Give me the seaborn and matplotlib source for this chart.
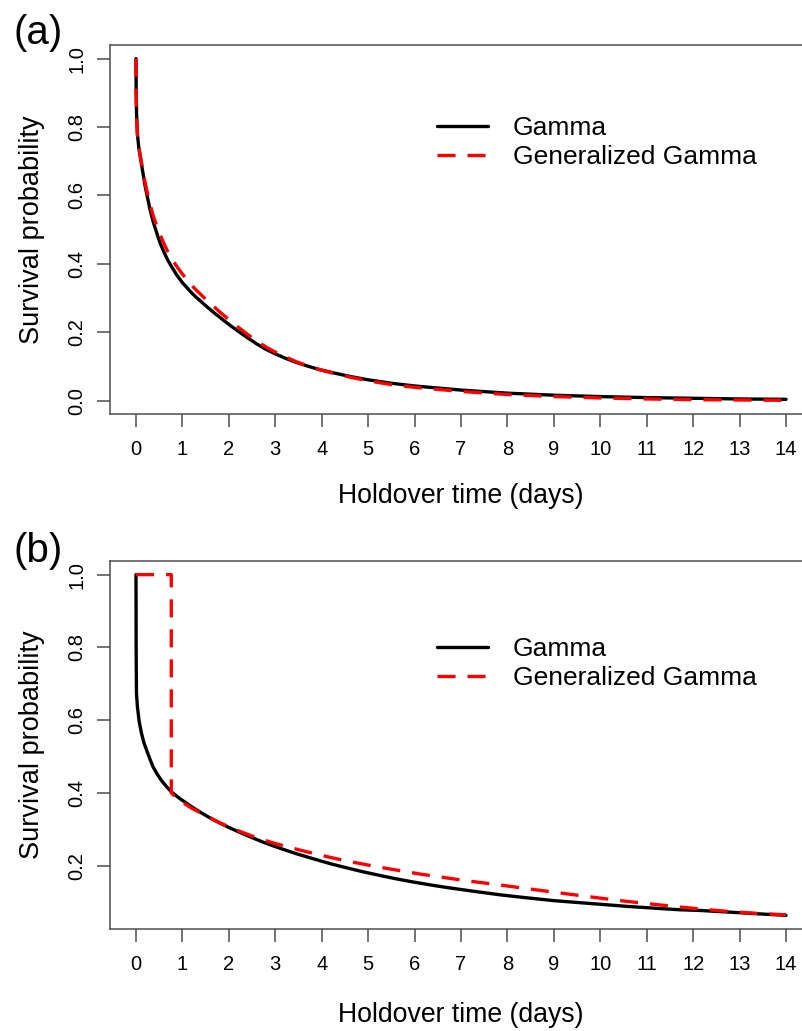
import matplotlib
matplotlib.use("Agg")
import matplotlib.pyplot as plt
import seaborn as sns
from matplotlib.lines import Line2D

# ---- Panel (a): fitted survival curves on a shared time grid ----
days_a = [0, 0.004, 0.012, 0.03, 0.06, 0.12, 0.2, 0.3, 0.37, 0.45, 0.52, 0.6, 0.68,
          0.77, 0.88, 1.0, 1.1, 1.2, 1.3, 1.4, 1.55, 1.7, 1.85, 2.0, 2.2, 2.4, 2.6,
          2.8, 3.0, 3.2, 3.45, 3.7, 3.95, 4.2, 4.4, 4.6, 5.0, 5.5, 6, 7, 8, 9, 10,
          11, 12, 13, 14]
gamma_a = [1.0, 0.90, 0.84, 0.78, 0.74, 0.69, 0.625, 0.56, 0.523, 0.489, 0.461,
           0.435, 0.412, 0.391, 0.367, 0.345, 0.33, 0.315, 0.302, 0.29, 0.272,
           0.255, 0.239, 0.223, 0.203, 0.184, 0.166, 0.15, 0.137, 0.125, 0.112,
           0.101, 0.091, 0.083, 0.077, 0.071, 0.061, 0.051, 0.043, 0.031, 0.022,
           0.016, 0.012, 0.009, 0.007, 0.005, 0.004]
gengamma_a = [1.0, 0.90, 0.84, 0.78, 0.74, 0.695, 0.635, 0.575, 0.541, 0.51, 0.485,
              0.46, 0.437, 0.416, 0.392, 0.37, 0.354, 0.337, 0.323, 0.31, 0.29,
              0.272, 0.254, 0.237, 0.215, 0.194, 0.174, 0.157, 0.142, 0.129, 0.114,
              0.102, 0.091, 0.082, 0.0755, 0.069, 0.058, 0.047, 0.039, 0.027, 0.018,
              0.012, 0.008, 0.005, 0.003, 0.002, 0.001]

# ---- Panel (b) ----
days_b_gamma = [0, 0.003, 0.01, 0.03, 0.07, 0.12, 0.17, 0.23, 0.3, 0.37, 0.46,
                0.55, 0.66, 0.77, 0.95, 1.2, 1.45, 1.67, 2.0, 2.39, 2.75, 3.1, 3.45,
                3.82, 4.2, 4.54, 4.9, 5.26, 5.6, 5.98, 6.35, 6.7, 7.2, 7.84, 8.4, 9.0,
                9.5, 10.0, 10.6, 11.2, 11.7, 12.15, 12.7, 13.3, 14.0]
gamma_b = [1.0, 0.80, 0.674, 0.637, 0.595, 0.563, 0.538, 0.517, 0.493, 0.471, 0.451,
           0.434, 0.417, 0.402, 0.384, 0.362, 0.342, 0.326, 0.305, 0.283, 0.264,
           0.248, 0.233, 0.219, 0.205, 0.194, 0.183, 0.173, 0.164, 0.155, 0.147,
           0.140, 0.131, 0.120, 0.112, 0.104, 0.099, 0.094, 0.088, 0.083, 0.079,
           0.077, 0.073, 0.0685, 0.0635]
days_b_gengamma = [0, 0.76, 0.76, 0.95, 1.2, 1.5, 1.8, 2.24, 2.6, 2.89, 3.2, 3.53,
                   3.85, 4.18, 4.5, 4.83, 5.15, 5.47, 5.8, 6.12, 6.45, 6.77, 7.1, 7.41,
                   7.84, 8.3, 8.9, 9.5, 9.99, 10.5, 11.0, 11.6, 12.15, 12.7, 13.3, 14.0]
gengamma_b = [1.0, 1.0, 0.40, 0.378, 0.358, 0.338, 0.318, 0.294, 0.277, 0.265,
              0.254, 0.243, 0.233, 0.223, 0.214, 0.206, 0.198, 0.191, 0.184, 0.177,
              0.171, 0.165, 0.159, 0.154, 0.147, 0.139, 0.129, 0.119, 0.111, 0.103,
              0.096, 0.088, 0.081, 0.075, 0.0695, 0.065]

x_ticks = list(range(0, 15))
y_ticks_a = [0.0, 0.2, 0.4, 0.6, 0.8, 1.0]
y_ticks_b = [0.2, 0.4, 0.6, 0.8, 1.0]
series_labels = ["Gamma", "Generalized Gamma"]
panel_tags = ["(a)", "(b)"]
x_title = "Holdover time (days)"
y_title = "Survival probability"

sns.set_theme(style="white")
plt.rcParams["font.family"] = ["Liberation Sans", "DejaVu Sans"]
plt.rcParams["lines.scale_dashes"] = False
for key in ("text.color", "axes.labelcolor", "xtick.labelcolor", "ytick.labelcolor"):
    plt.rcParams[key] = "black"

W, H = 802, 1031
fig = plt.figure(figsize=(W / 100, H / 100), dpi=100)

LW = 2.4
DASH = [13, 8.6]
AXIS_GREY = "#4d4d4d"


def add_axes_px(left, top, right, bottom):
    return fig.add_axes([left / W, 1 - bottom / H, (right - left) / W, (bottom - top) / H])


def padded(lo, hi, frac=0.04):
    d = (hi - lo) * frac
    return lo - d, hi + d


def draw_panel(ax, t_g, s_g, t_gg, s_gg, yticks, legend_top_px, tag, tag_y_px, xlabel_y):
    sns.lineplot(x=t_g, y=s_g, ax=ax, color="black", linewidth=LW,
                 estimator=None, sort=False, legend=False)
    sns.lineplot(x=t_gg, y=s_gg, ax=ax, color="#ff0000", linewidth=LW,
                 estimator=None, sort=False, legend=False)
    ax.lines[-1].set_dashes(DASH)

    ax.set_xlim(*padded(0, 14))
    ax.set_ylim(*padded(min(s_g + s_gg), max(s_g + s_gg)))
    ax.set_xticks(x_ticks)
    ax.set_xticklabels([str(v) for v in x_ticks])
    ax.set_yticks(yticks)
    ax.set_yticklabels([f"{v:.1f}" for v in yticks], rotation=90, va="center")

    for sp in ax.spines.values():
        sp.set_color(AXIS_GREY)
        sp.set_linewidth(1.1)
    ax.tick_params(axis="both", which="major", direction="out", length=9.6,
                   width=1.1, color=AXIS_GREY, labelcolor="black", labelsize=14.5,
                   bottom=True, left=True)
    ax.tick_params(axis="x", pad=9)
    ax.tick_params(axis="y", pad=7.5)

    ax.set_xlabel(x_title, fontsize=19.2, va="center", color="black")
    ax.xaxis.set_label_coords(0.5, xlabel_y)
    ax.set_ylabel(y_title, fontsize=19.5, va="center", ha="center", color="black")
    ax.yaxis.set_label_coords(-0.111, 0.5)
    ax.grid(False)

    handles = [Line2D([], [], color="black", lw=LW),
               Line2D([], [], color="#ff0000", lw=LW, dashes=DASH)]
    leg = ax.legend(handles, series_labels, loc="upper left",
                    bbox_to_anchor=(437 / W, 1 - legend_top_px / H),
                    bbox_transform=fig.transFigure, frameon=False, fontsize=19,
                    handlelength=1.93, handletextpad=0.95, labelspacing=0.2,
                    borderpad=0, borderaxespad=0)
    for txt in leg.get_texts():
        txt.set_color("black")

    fig.text(14 / W, 1 - tag_y_px / H, tag, fontsize=29, ha="left", va="center",
             color="black")


ax_a = add_axes_px(110, 45, 812, 414)
draw_panel(ax_a, days_a, gamma_a, days_a, gengamma_a, y_ticks_a,
           116, panel_tags[0], 33, -0.222)

ax_b = add_axes_px(110, 561, 812, 929)
draw_panel(ax_b, days_b_gamma, gamma_b, days_b_gengamma, gengamma_b, y_ticks_b,
           637, panel_tags[1], 551, -0.234)

fig.savefig("out.png", dpi=100, facecolor="white")
